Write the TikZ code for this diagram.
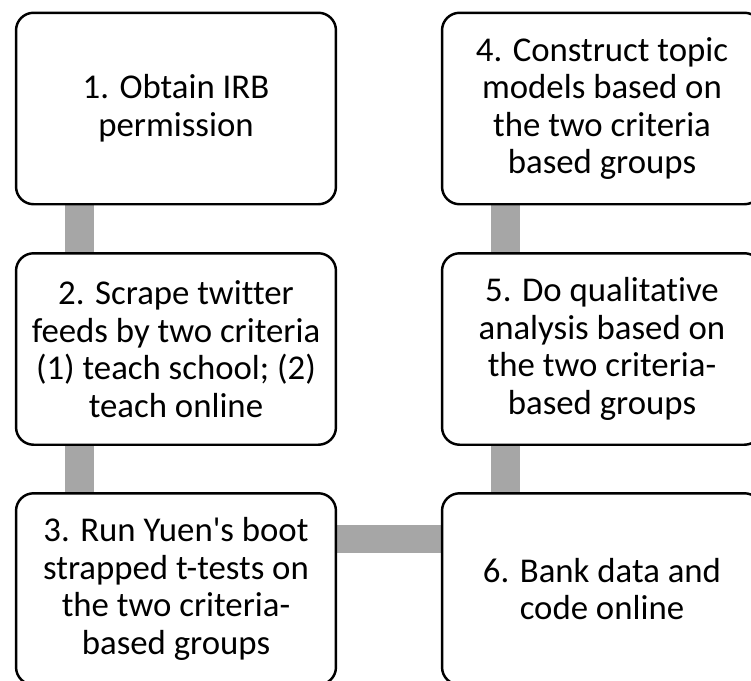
\documentclass[tikz,border=0pt]{standalone}
\usepackage{fontspec}
\setmainfont[Ligatures=NoCommon]{Carlito}
\usetikzlibrary{backgrounds}
\definecolor{linkgray}{RGB}{166,166,166}
\begin{document}
\begin{tikzpicture}
[x=0.02cm,y=-0.02cm,
  stepbox/.style={shape=rectangle,rounded corners=10pt,draw,line width=1.4pt,fill=white,
    minimum width=6.4cm,minimum height=3.83cm,align=center,
    font=\fontsize{19.8}{21.4}\selectfont},%
  linkdecorate/.style={draw=linkgray,line width=16.4pt}]
\useasboundingbox (0,0) rectangle (751,680);
\clip (0,0) rectangle (751,680);
% nodes or steps
\node (b1) at (176,108.5) [stepbox] {1. Obtain IRB\\permission};
\node (b2) at (176,349) [stepbox] {2. Scrape twitter\\feeds by two criteria\\(1) teach school; (2)\\teach online};
\node (b3) at (176,589) [stepbox] {3. Run Yuen\textquotesingle s boot\\strapped t-tests on\\the two criteria-\\based groups};
\node (b4) at (602,108.5) [stepbox] {4. Construct topic\\models based on\\the two criteria\\based groups};
\node (b5) at (602,349) [stepbox] {5. Do qualitative\\analysis based on\\the two criteria-\\based groups};
\node (b6) at (602,589) [stepbox] {6. Bank data and\\code online};
% links between steps
\begin{scope}[on background layer]
\path
([xshift=1.3cm]b1.south west) edge[linkdecorate] ([xshift=1.3cm]b2.north west)
([xshift=1.3cm]b2.south west) edge[linkdecorate] ([xshift=1.3cm]b3.north west)
([yshift=-0.94cm]b3.north east) edge[linkdecorate] ([yshift=-0.94cm]b6.north west)
([xshift=1.29cm]b6.north west) edge[linkdecorate] ([xshift=1.29cm]b5.south west)
([xshift=1.29cm]b5.north west) edge[linkdecorate] ([xshift=1.29cm]b4.south west);
\end{scope}
\end{tikzpicture}
\end{document}
